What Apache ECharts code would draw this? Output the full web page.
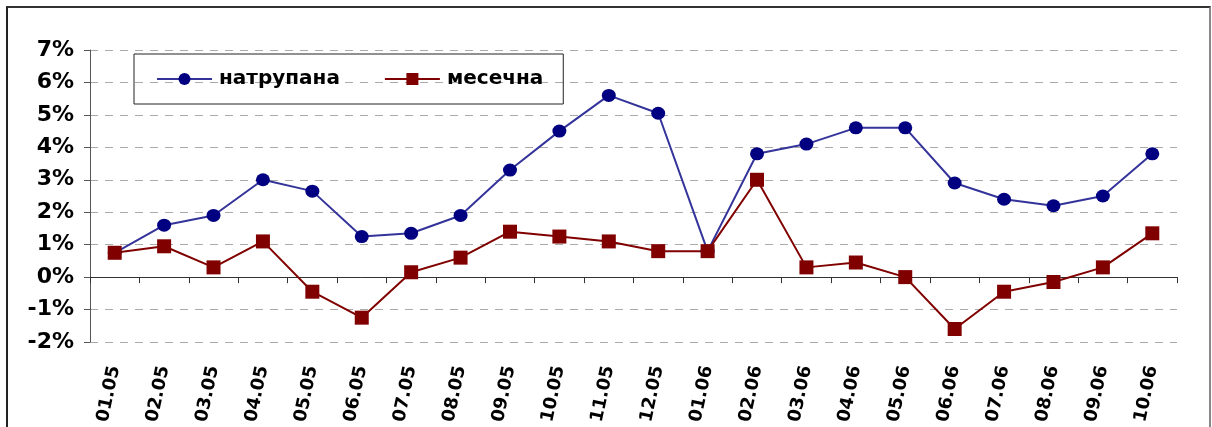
<!DOCTYPE html>
<html>
<head>
<meta charset="utf-8">
<script src="https://cdn.jsdelivr.net/npm/echarts@6/dist/echarts.min.js"></script>
<style>
  html, body { margin: 0; padding: 0; background: #fff; }
  #frame {
    position: absolute; left: 6px; top: 6px; width: 1201px; height: 500px;
    border-left: 2px solid #222; border-top: 2px solid #333; border-right: 2px solid #888;
  }
  #chart { position: absolute; left: 0; top: 0; width: 1212px; height: 427px; }
</style>
</head>
<body>
<div id="frame"></div>
<div id="chart"></div>
<script>
// месеци
var months = ['01.05','02.05','03.05','04.05','05.05','06.05','07.05','08.05','09.05','10.05','11.05','12.05',
              '01.06','02.06','03.06','04.06','05.06','06.06','07.06','08.06','09.06','10.06'];
// натрупана инфлација (%)
var cumulative = [0.75, 1.6, 1.9, 3.0, 2.65, 1.25, 1.35, 1.9, 3.3, 4.5, 5.6, 5.05,
                  0.8, 3.8, 4.1, 4.6, 4.6, 2.9, 2.4, 2.2, 2.5, 3.8];
// месечна инфлација (%)
var monthly = [0.75, 0.95, 0.3, 1.1, -0.45, -1.25, 0.15, 0.6, 1.4, 1.25, 1.1, 0.8,
               0.8, 3.0, 0.3, 0.45, 0.0, -1.6, -0.45, -0.15, 0.3, 1.35];
var yMin = -2, yMax = 7, yStep = 1;

var font = 'DejaVu Sans, Verdana, sans-serif';
var myChart = echarts.init(document.getElementById('chart'));

var option = {
    animation: false,
    grid: { left: 90, right: 35, top: 50, bottom: 85 },
    legend: {
        left: 134, top: 54,
        padding: [15, 20, 15, 22],
        borderColor: '#222', borderWidth: 1,
        itemWidth: 55, itemHeight: 15, itemGap: 44,
        textStyle: { fontFamily: font, fontSize: 20, fontWeight: 'bold', color: '#000', padding: [0, 0, 0, 2] },
        data: ['натрупана', 'месечна']
    },
    xAxis: [
        {   // ознаки долу
            type: 'category', data: months, position: 'bottom',
            axisLine: { show: false, onZero: false },
            axisTick: { show: false },
            axisLabel: {
                rotate: 78, margin: 24, interval: 0,
                fontFamily: font, fontSize: 18, fontWeight: 'bold', color: '#000'
            }
        },
        {   // оска на нула
            type: 'category', data: months, position: 'top',
            axisLine: { show: true, onZero: true, lineStyle: { color: '#333', width: 1 } },
            axisTick: { show: true, inside: true, length: 6, lineStyle: { color: '#333' } },
            axisLabel: { show: false }
        }
    ],
    yAxis: {
        type: 'value', min: yMin, max: yMax, interval: yStep,
        axisLine: { show: true, onZero: false, lineStyle: { color: '#555' } },
        axisTick: { show: true, length: 6, lineStyle: { color: '#555' } },
        axisLabel: {
            formatter: '{value}%', margin: 16,
            fontFamily: font, fontSize: 22, fontWeight: 'bold', color: '#000'
        },
        splitLine: { show: true, lineStyle: { color: '#aaa', type: [8, 7], width: 1 } }
    },
    series: [
        {
            name: 'натрупана', type: 'line', data: cumulative,
            symbol: 'circle', symbolSize: [14, 13],
            lineStyle: { color: '#33339a', width: 2 },
            itemStyle: { color: '#000080' }
        },
        {
            name: 'месечна', type: 'line', data: monthly,
            symbol: 'rect', symbolSize: 14,
            lineStyle: { color: '#800000', width: 2 },
            itemStyle: { color: '#800000' }
        }
    ]
};
myChart.setOption(option);
</script>
</body>
</html>
